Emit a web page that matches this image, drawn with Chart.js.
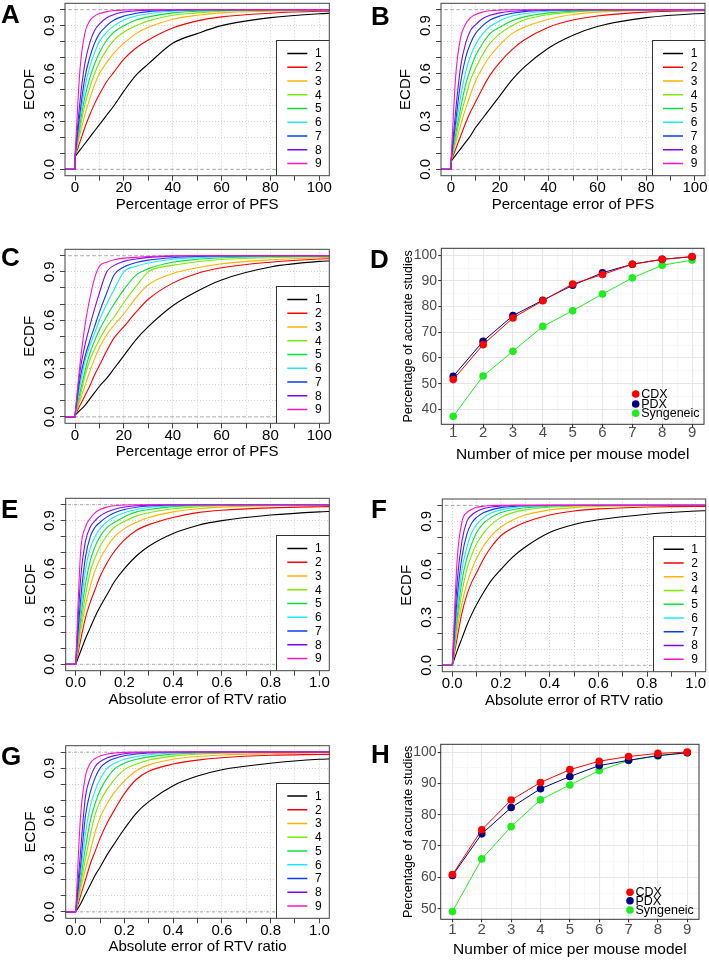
<!DOCTYPE html>
<html><head><meta charset="utf-8">
<script src="https://cdn.jsdelivr.net/npm/chart.js@4.4.0/dist/chart.umd.min.js"></script>
<style>
html,body{margin:0;padding:0;background:#fff;}
#wrap{position:relative;width:709px;height:960px;overflow:hidden;background:#fff;font-family:"Liberation Sans",Arial,Helvetica,sans-serif;}
canvas{position:absolute;}
.lab{position:absolute;font-weight:bold;font-size:26px;line-height:26px;color:#000;}
</style></head><body><div id="wrap">
<canvas id="cA"></canvas><canvas id="cB"></canvas><canvas id="cC"></canvas><canvas id="cD"></canvas>
<canvas id="cE"></canvas><canvas id="cF"></canvas><canvas id="cG"></canvas><canvas id="cH"></canvas>
<div class="lab" style="left:1px;top:1px">A</div>
<div class="lab" style="left:371px;top:3px">B</div>
<div class="lab" style="left:1px;top:244px">C</div>
<div class="lab" style="left:370px;top:246px">D</div>
<div class="lab" style="left:1px;top:496px">E</div>
<div class="lab" style="left:371px;top:496px">F</div>
<div class="lab" style="left:1px;top:743px">G</div>
<div class="lab" style="left:371px;top:741px">H</div>
</div>
<script>
// ================= DATA =================
const CURVE_LABELS = ['1','2','3','4','5','6','7','8','9'];
// x grid for percentage-error panels (A, B, C); ECDF is 0 for x < 0
const PFS_X = [0, 2, 4, 6, 8, 10, 13, 16, 20, 25, 30, 40, 50, 60, 80, 100, 105];
// x grid for RTV-ratio panels (E, F, G)
const RTV_X = [0, 0.02, 0.04, 0.06, 0.08, 0.1, 0.13, 0.16, 0.2, 0.25, 0.3, 0.4, 0.5, 0.6, 0.8, 1.0, 1.05];

const PANEL_A = [
  [0.08,0.12,0.16,0.20,0.24,0.28,0.34,0.40,0.49,0.59,0.66,0.79,0.85,0.90,0.95,0.975,0.978],
  [0.08,0.17,0.26,0.34,0.41,0.47,0.55,0.61,0.69,0.76,0.81,0.885,0.93,0.955,0.978,0.99,0.991],
  [0.08,0.22,0.34,0.44,0.53,0.60,0.67,0.73,0.79,0.85,0.89,0.94,0.965,0.98,0.99,0.995,0.995],
  [0.08,0.25,0.40,0.51,0.60,0.67,0.75,0.81,0.86,0.90,0.93,0.965,0.98,0.99,0.997,1,1],
  [0.08,0.28,0.45,0.57,0.66,0.73,0.81,0.86,0.90,0.935,0.955,0.98,0.99,0.995,1,1,1],
  [0.08,0.31,0.51,0.64,0.73,0.80,0.86,0.90,0.935,0.96,0.975,0.99,0.996,1,1,1,1],
  [0.08,0.35,0.57,0.70,0.79,0.85,0.90,0.935,0.96,0.978,0.988,0.996,1,1,1,1,1],
  [0.08,0.42,0.66,0.79,0.87,0.91,0.95,0.97,0.985,0.993,0.997,1,1,1,1,1,1],
  [0.08,0.62,0.85,0.93,0.96,0.975,0.988,0.995,0.998,1,1,1,1,1,1,1,1]
];
const PANEL_B = [
  [0.05,0.09,0.13,0.17,0.21,0.26,0.32,0.38,0.46,0.56,0.64,0.76,0.84,0.895,0.95,0.975,0.977],
  [0.05,0.13,0.21,0.29,0.36,0.42,0.51,0.59,0.67,0.75,0.81,0.89,0.935,0.96,0.985,0.993,0.994],
  [0.05,0.17,0.28,0.38,0.47,0.55,0.64,0.71,0.78,0.85,0.89,0.94,0.97,0.985,0.995,0.998,0.998],
  [0.05,0.20,0.34,0.45,0.56,0.63,0.72,0.79,0.85,0.90,0.935,0.97,0.985,0.993,0.998,1,1],
  [0.05,0.23,0.39,0.53,0.63,0.71,0.79,0.85,0.89,0.93,0.955,0.98,0.99,0.996,1,1,1],
  [0.05,0.27,0.46,0.61,0.71,0.78,0.85,0.895,0.93,0.96,0.975,0.99,0.996,1,1,1,1],
  [0.05,0.31,0.55,0.70,0.79,0.85,0.90,0.935,0.96,0.978,0.988,0.996,1,1,1,1,1],
  [0.05,0.38,0.65,0.79,0.87,0.905,0.945,0.965,0.98,0.99,0.995,1,1,1,1,1,1],
  [0.05,0.60,0.83,0.91,0.95,0.97,0.985,0.993,0.997,1,1,1,1,1,1,1,1]
];
const PANEL_C = [
  [0.01,0.04,0.07,0.11,0.15,0.19,0.24,0.30,0.38,0.48,0.56,0.69,0.78,0.85,0.93,0.965,0.968],
  [0.01,0.07,0.13,0.19,0.26,0.32,0.41,0.49,0.56,0.65,0.73,0.83,0.89,0.925,0.96,0.98,0.982],
  [0.01,0.10,0.19,0.28,0.36,0.43,0.51,0.57,0.64,0.74,0.82,0.89,0.925,0.95,0.975,0.988,0.989],
  [0.01,0.12,0.25,0.35,0.42,0.48,0.56,0.62,0.71,0.81,0.90,0.94,0.963,0.977,0.988,0.994,0.994],
  [0.01,0.15,0.28,0.39,0.47,0.54,0.625,0.70,0.79,0.88,0.92,0.96,0.978,0.988,0.995,0.998,0.998],
  [0.01,0.19,0.34,0.44,0.52,0.60,0.70,0.79,0.90,0.935,0.955,0.978,0.988,0.994,0.998,1,1],
  [0.01,0.23,0.37,0.47,0.56,0.65,0.77,0.88,0.93,0.958,0.973,0.988,0.995,0.998,1,1,1],
  [0.01,0.28,0.44,0.56,0.67,0.77,0.90,0.94,0.965,0.98,0.99,0.997,1,1,1,1,1],
  [0.01,0.32,0.56,0.73,0.86,0.935,0.96,0.975,0.985,0.99,0.995,1,1,1,1,1,1]
];
const PANEL_E = [
  [0,0.08,0.16,0.23,0.30,0.36,0.44,0.52,0.60,0.68,0.74,0.82,0.87,0.90,0.935,0.955,0.958],
  [0,0.15,0.29,0.39,0.47,0.55,0.64,0.71,0.78,0.84,0.875,0.92,0.95,0.965,0.98,0.987,0.988],
  [0,0.20,0.37,0.49,0.59,0.66,0.74,0.80,0.85,0.89,0.92,0.955,0.975,0.985,0.993,0.996,0.996],
  [0,0.24,0.43,0.58,0.67,0.74,0.81,0.86,0.895,0.93,0.95,0.975,0.987,0.993,0.998,1,1],
  [0,0.28,0.50,0.65,0.74,0.80,0.86,0.89,0.925,0.955,0.97,0.988,0.995,0.998,1,1,1],
  [0,0.33,0.59,0.73,0.80,0.85,0.895,0.925,0.95,0.97,0.982,0.994,0.998,1,1,1,1],
  [0,0.40,0.67,0.80,0.86,0.89,0.925,0.95,0.97,0.984,0.992,0.998,1,1,1,1,1],
  [0,0.53,0.77,0.86,0.90,0.93,0.955,0.972,0.985,0.993,0.997,1,1,1,1,1,1],
  [0,0.70,0.86,0.915,0.95,0.97,0.985,0.993,0.998,1,1,1,1,1,1,1,1]
];
const PANEL_F = [
  [0,0.09,0.17,0.25,0.32,0.38,0.46,0.53,0.60,0.68,0.74,0.83,0.88,0.91,0.945,0.965,0.967],
  [0,0.17,0.33,0.44,0.52,0.58,0.67,0.74,0.81,0.86,0.895,0.94,0.965,0.978,0.99,0.994,0.994],
  [0,0.22,0.39,0.51,0.60,0.67,0.75,0.81,0.865,0.91,0.94,0.972,0.986,0.993,0.998,1,1],
  [0,0.26,0.46,0.60,0.69,0.76,0.83,0.88,0.925,0.955,0.972,0.988,0.995,0.998,1,1,1],
  [0,0.30,0.53,0.67,0.76,0.83,0.89,0.925,0.955,0.974,0.985,0.995,0.999,1,1,1,1],
  [0,0.35,0.60,0.74,0.83,0.88,0.925,0.952,0.972,0.986,0.993,0.998,1,1,1,1,1],
  [0,0.42,0.68,0.82,0.89,0.925,0.955,0.972,0.986,0.994,0.998,1,1,1,1,1,1],
  [0,0.52,0.78,0.90,0.94,0.962,0.98,0.99,0.996,1,1,1,1,1,1,1,1],
  [0,0.66,0.90,0.955,0.975,0.988,0.995,0.999,1,1,1,1,1,1,1,1,1]
];
const PANEL_G = [
  [0,0.05,0.11,0.17,0.23,0.28,0.36,0.43,0.52,0.62,0.69,0.79,0.85,0.89,0.93,0.955,0.958],
  [0,0.10,0.20,0.30,0.38,0.46,0.56,0.64,0.74,0.83,0.88,0.925,0.95,0.965,0.98,0.985,0.986],
  [0,0.14,0.27,0.38,0.50,0.59,0.68,0.75,0.82,0.885,0.92,0.955,0.972,0.982,0.99,0.994,0.994],
  [0,0.17,0.33,0.48,0.61,0.69,0.77,0.83,0.89,0.925,0.95,0.975,0.987,0.993,0.997,0.999,0.999],
  [0,0.20,0.40,0.57,0.68,0.76,0.84,0.895,0.93,0.955,0.97,0.987,0.994,0.997,1,1,1],
  [0,0.24,0.49,0.66,0.76,0.83,0.90,0.93,0.955,0.972,0.983,0.993,0.998,1,1,1,1],
  [0,0.29,0.60,0.75,0.84,0.90,0.94,0.96,0.977,0.988,0.994,0.998,1,1,1,1,1],
  [0,0.38,0.72,0.84,0.91,0.94,0.965,0.978,0.99,0.995,0.998,1,1,1,1,1,1],
  [0,0.60,0.85,0.93,0.96,0.975,0.988,0.994,0.998,1,1,1,1,1,1,1,1]
];

// ECDF axes ticks
const ECDF_Y_TICKS = [0,0.1,0.2,0.3,0.4,0.5,0.6,0.7,0.8,0.9,1];
const ECDF_Y_LABELS = [0,0.3,0.6,0.9];
const REF_LEVELS = [0, 1];
const PFS_TICKS = [0,10,20,30,40,50,60,70,80,90,100];
const PFS_LABELS = [0,20,40,60,80,100];
const RTV_TICKS = [0,0.1,0.2,0.3,0.4,0.5,0.6,0.7,0.8,0.9,1];
const RTV_LABELS = [0,0.2,0.4,0.6,0.8,1];

// Panels D and H
const MICE = [1,2,3,4,5,6,7,8,9];
const MICE_TICKS = [1,1.5,2,2.5,3,3.5,4,4.5,5,5.5,6,6.5,7,7.5,8,8.5,9];
const MODEL_LABELS = ['CDX','PDX','Syngeneic'];
const D_CDX = [51.6,65.2,75.6,82.3,88.8,92.5,96.5,98.4,99.5];
const D_PDX = [52.9,66.5,76.5,82.5,88.3,93.2,96.5,98.4,99.4];
const D_SYN = [37.3,53.0,62.6,72.3,78.4,84.9,91.2,96.1,98.1];
const H_CDX = [60.9,75.2,84.7,90.3,94.4,97.1,98.6,99.6,100];
const H_PDX = [60.6,73.9,82.3,88.3,92.2,95.7,97.4,98.9,99.8];
const H_SYN = [49.1,65.9,76.2,84.8,89.5,94.1,97.3,98.8,99.8];
const D_Y_TICKS = [35,40,45,50,55,60,65,70,75,80,85,90,95,100];
const D_Y_LABELS = [40,50,60,70,80,90,100];
const H_Y_TICKS = [50,55,60,65,70,75,80,85,90,95,100];
const H_Y_LABELS = [50,60,70,80,90,100];

// ================= STYLE / LAYOUT =================
const FONT = '"Liberation Sans", Arial, Helvetica, sans-serif';
const CURVE_COLORS = ['#000000','#FF0000','#FFB400','#7FEA00','#00E43C','#1EE8F5','#0A3CF5','#7A0AF5','#FF14C0'];
const MODEL_COLORS = ['#FF0000','#000080','#1EEE1E'];

const has = (arr, v) => arr.some(a => Math.abs(a - v) < 1e-9);

const panelPlugin = {
  id: 'panelBox',
  afterDraw(chart, args, o) {
    const a = chart.chartArea, ctx = chart.ctx;
    if (o.kind === 'r') {
      const x0 = a.right - o.boxW, y0 = a.top + o.boxTop;
      ctx.save();
      ctx.beginPath(); ctx.rect(a.left, a.top, a.right - a.left, a.bottom - a.top); ctx.clip();
      ctx.fillStyle = '#fff';
      ctx.fillRect(x0, y0, o.boxW + 10, a.bottom - y0 + 10);
      ctx.strokeStyle = '#333'; ctx.lineWidth = 1;
      ctx.strokeRect(Math.round(x0) + 0.5, Math.round(y0) + 0.5, o.boxW + 10, a.bottom - y0 + 10);
      const items = chart.data.datasets.filter(d => d.inLegend);
      ctx.font = '12px ' + FONT; ctx.textAlign = 'center'; ctx.textBaseline = 'middle';
      items.forEach((d, i) => {
        const y = y0 + o.first + i * o.step;
        ctx.strokeStyle = d.borderColor; ctx.lineWidth = 1.5;
        ctx.beginPath(); ctx.moveTo(x0 + 11, y); ctx.lineTo(x0 + 31, y); ctx.stroke();
        ctx.fillStyle = '#000'; ctx.fillText(d.label, x0 + 42, y + 0.5);
      });
      ctx.restore();
    } else if (o.kind === 'gg') {
      const items = chart.data.datasets.filter(d => d.inLegend);
      ctx.save();
      ctx.font = '12.5px ' + FONT; ctx.textAlign = 'left'; ctx.textBaseline = 'middle';
      items.forEach((d, i) => {
        const y = a.bottom - o.rows[i], x = a.right - o.mx;
        ctx.fillStyle = d.borderColor;
        ctx.beginPath(); ctx.arc(x, y, 3.8, 0, Math.PI * 2); ctx.fill();
        ctx.fillStyle = '#000'; ctx.fillText(d.label, x + 5.5, y + 0.5);
      });
      ctx.restore();
    }
    ctx.save();
    ctx.strokeStyle = o.border; ctx.lineWidth = 1;
    ctx.strokeRect(a.left, a.top, a.right - a.left, a.bottom - a.top);
    ctx.restore();
  }
};

function place(cv, g) {
  cv.width = g.cw; cv.height = g.ch;
  cv.style.left = g.cx + 'px'; cv.style.top = g.cy + 'px';
  cv.style.width = g.cw + 'px'; cv.style.height = g.ch + 'px';
}

function ecdfChart(id, g, xs, series, ax) {
  const cv = document.getElementById(id);
  place(cv, g);
  const YW = 65, XH = 40;
  const datasets = [];
  REF_LEVELS.forEach(level => datasets.push({
    label: 'ref', inLegend: false,
    data: [{x: ax.min - 1, y: level}, {x: ax.max + 1, y: level}],
    borderColor: '#A8A8A8', borderWidth: 1, borderDash: [3, 3], pointRadius: 0, tension: 0, order: 30
  }));
  series.forEach((vals, k) => {
    // ECDF step: zero for negative errors, then the jump at x = 0
    datasets.push({
      label: 'step', inLegend: false,
      data: [{x: ax.min - 1, y: 0}, {x: xs[0], y: 0}, {x: xs[0], y: vals[0]}],
      borderColor: CURVE_COLORS[k], borderWidth: 1.1, pointRadius: 0, tension: 0, order: 20 - k
    });
    datasets.push({
      label: CURVE_LABELS[k], inLegend: true,
      data: xs.map((x, i) => ({x: x, y: vals[i]})),
      borderColor: CURVE_COLORS[k], borderWidth: 1.1, pointRadius: 0,
      cubicInterpolationMode: 'monotone', order: 10 - k
    });
  });
  new Chart(cv, {
    type: 'line',
    data: {datasets},
    plugins: [panelPlugin],
    options: {
      responsive: false, animation: false, devicePixelRatio: 1,
      layout: {padding: {left: g.L - g.cx - YW, top: g.T - g.cy, right: g.cx + g.cw - g.R, bottom: g.cy + g.ch - g.B - XH}},
      plugins: {legend: {display: false}, tooltip: {enabled: false},
        panelBox: {kind: 'r', border: '#444', boxW: 53, boxTop: 37, first: 13.3, step: 13.75}},
      scales: {
        x: {
          type: 'linear', min: ax.min, max: ax.max,
          afterBuildTicks: s => { s.ticks = ax.ticks.map(v => ({value: v})); },
          afterFit: s => { s.height = XH; s.paddingLeft = 0; s.paddingRight = 0; },
          ticks: {autoSkip: false, maxRotation: 0, minRotation: 0, padding: 0, color: '#000',
            font: {family: FONT, size: 15, lineHeight: 1},
            callback: v => has(ax.labels, v) ? ax.fmt(v) : ''},
          grid: {color: '#D0D0D0', lineWidth: 1, tickLength: 5, tickColor: '#444', tickWidth: 1},
          border: {display: false, dash: [1, 2]},
          title: {display: true, text: ax.title, color: '#000', font: {family: FONT, size: 15, lineHeight: 1.2}, padding: {top: 0, bottom: 2}}
        },
        y: {
          type: 'linear', min: -0.04, max: 1.04,
          afterBuildTicks: s => { s.ticks = ECDF_Y_TICKS.map(v => ({value: v})); },
          afterFit: s => { s.width = YW; s.paddingTop = 0; s.paddingBottom = 0; },
          ticks: {autoSkip: false, minRotation: 90, maxRotation: 90, crossAlign: 'center', padding: 0, color: '#000',
            font: {family: FONT, size: 15, lineHeight: 1.2},
            callback: v => has(ECDF_Y_LABELS, v) ? v.toFixed(1) : ''},
          grid: {color: '#D0D0D0', lineWidth: 1, tickLength: 5, tickColor: '#444', tickWidth: 1},
          border: {display: false, dash: [1, 2]},
          title: {display: true, text: 'ECDF', color: '#000', font: {family: FONT, size: 15, lineHeight: 1.2}, padding: {top: 21, bottom: 0}}
        }
      }
    }
  });
}

function ggChart(id, g, series, yr, yTicks, yLabels, leg) {
  const cv = document.getElementById(id);
  place(cv, g);
  const YW = 45, XH = 40;
  const datasets = series.map((vals, k) => ({
    label: MODEL_LABELS[k], inLegend: true,
    data: MICE.map((m, i) => ({x: m, y: vals[i]})),
    borderColor: MODEL_COLORS[k], backgroundColor: MODEL_COLORS[k],
    borderWidth: 1, pointRadius: 3.8, pointBorderWidth: 0, pointBackgroundColor: MODEL_COLORS[k],
    tension: 0, order: k
  }));
  const majorX = v => Math.abs(v - Math.round(v)) < 1e-9;
  new Chart(cv, {
    type: 'line',
    data: {datasets},
    plugins: [panelPlugin],
    options: {
      responsive: false, animation: false, devicePixelRatio: 1,
      layout: {padding: {left: g.L - g.cx - YW, top: g.T - g.cy, right: g.cx + g.cw - g.R, bottom: g.cy + g.ch - g.B - XH}},
      plugins: {legend: {display: false}, tooltip: {enabled: false},
        panelBox: {kind: 'gg', border: '#333', mx: leg.mx, rows: leg.rows}},
      scales: {
        x: {
          type: 'linear', min: 0.6, max: 9.4,
          afterBuildTicks: s => { s.ticks = MICE_TICKS.map(v => ({value: v})); },
          afterFit: s => { s.height = XH; s.paddingLeft = 0; s.paddingRight = 0; },
          ticks: {autoSkip: false, maxRotation: 0, minRotation: 0, padding: leg.xpad, color: '#4D4D4D',
            font: {family: FONT, size: 15, lineHeight: 1},
            callback: v => majorX(v) ? String(v) : ''},
          grid: {color: c => majorX(c.tick.value) ? '#E6E6E6' : '#F2F2F2',
                 lineWidth: c => majorX(c.tick.value) ? 1.1 : 0.6,
                 tickLength: 3, tickColor: c => majorX(c.tick.value) ? '#333' : 'rgba(0,0,0,0)'},
          border: {display: false},
          title: {display: true, text: 'Number of mice per mouse model', color: '#000', font: {family: FONT, size: 15.5, lineHeight: 1.2}, padding: {top: 0, bottom: 0}}
        },
        y: {
          type: 'linear', min: yr[0], max: yr[1],
          afterBuildTicks: s => { s.ticks = yTicks.map(v => ({value: v})); },
          afterFit: s => { s.width = YW; s.paddingTop = 0; s.paddingBottom = 0; },
          ticks: {autoSkip: false, padding: 1.2, color: '#4D4D4D',
            font: {family: FONT, size: 14, lineHeight: 1.2},
            callback: v => has(yLabels, v) ? String(v) : ''},
          grid: {color: c => has(yLabels, c.tick.value) ? '#E6E6E6' : '#F2F2F2',
                 lineWidth: c => has(yLabels, c.tick.value) ? 1.1 : 0.6,
                 tickLength: 3, tickColor: c => has(yLabels, c.tick.value) ? '#333' : 'rgba(0,0,0,0)'},
          border: {display: false},
          title: {display: true, text: 'Percentage of accurate studies', color: '#000', font: {family: FONT, size: 12.5, lineHeight: 1.2}, padding: {top: 5.2, bottom: 0}}
        }
      }
    }
  });
}

const PFS_AXIS = {min: -4.1, max: 104.1, ticks: PFS_TICKS, labels: PFS_LABELS, fmt: v => String(v), title: 'Percentage error of PFS'};
const RTV_AXIS = {min: -0.041, max: 1.041, ticks: RTV_TICKS, labels: RTV_LABELS, fmt: v => v.toFixed(1), title: 'Absolute error of RTV ratio'};

ecdfChart('cA', {cx: 0, cy: 0, cw: 354, ch: 240, L: 65, T: 3.3, R: 329.3, B: 175.7}, PFS_X, PANEL_A, PFS_AXIS);
ecdfChart('cB', {cx: 354, cy: 0, cw: 355, ch: 240, L: 441, T: 3.3, R: 705, B: 175.7}, PFS_X, PANEL_B, PFS_AXIS);
ecdfChart('cC', {cx: 0, cy: 240, cw: 354, ch: 240, L: 65, T: 249.3, R: 329.3, B: 423.3}, PFS_X, PANEL_C, PFS_AXIS);
ecdfChart('cE', {cx: 0, cy: 480, cw: 354, ch: 240, L: 65.7, T: 498.3, R: 329.3, B: 670.7}, RTV_X, PANEL_E, RTV_AXIS);
ecdfChart('cF', {cx: 354, cy: 480, cw: 355, ch: 240, L: 442.3, T: 499, R: 705.7, B: 671.7}, RTV_X, PANEL_F, RTV_AXIS);
ecdfChart('cG', {cx: 0, cy: 720, cw: 354, ch: 240, L: 65.7, T: 745.7, R: 329.3, B: 918.3}, RTV_X, PANEL_G, RTV_AXIS);

ggChart('cD', {cx: 354, cy: 240, cw: 355, ch: 240, L: 441.3, T: 248.3, R: 704, B: 424.3},
  [D_CDX, D_PDX, D_SYN], [34.2, 102.7], D_Y_TICKS, D_Y_LABELS, {mx: 68.3, rows: [30.3, 20.3, 11], xpad: -1.5});
ggChart('cH', {cx: 354, cy: 720, cw: 355, ch: 240, L: 440.7, T: 744.3, R: 699, B: 919.3},
  [H_CDX, H_PDX, H_SYN], [46.6, 102.5], H_Y_TICKS, H_Y_LABELS, {mx: 69, rows: [27, 18.5, 9.3], xpad: 0.2});
</script>
</body></html>
